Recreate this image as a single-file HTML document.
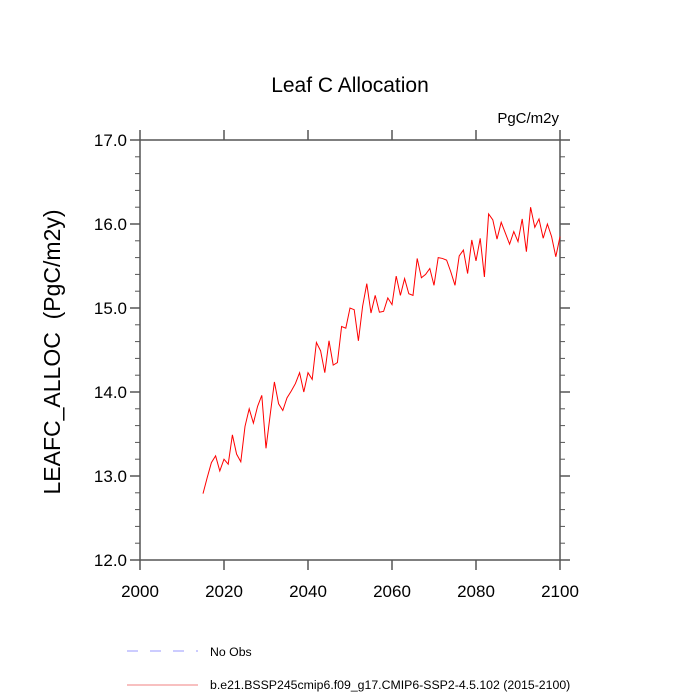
<!DOCTYPE html>
<html><head><meta charset="utf-8"><style>
body{margin:0;background:#fff;}
svg{display:block;font-family:"Liberation Sans",sans-serif;}
</style></head><body>
<svg id="chart" width="700" height="700">
<text x="350" y="92" font-size="21" text-anchor="middle">Leaf C Allocation</text>
<text x="559" y="123" font-size="15" text-anchor="end">PgC/m2y</text>
<text transform="translate(60,352) rotate(-90)" font-size="23" text-anchor="middle" xml:space="preserve" style="white-space:pre">LEAFC_ALLOC  (PgC/m2y)</text>
<g id="axes"></g>
<g id="series"></g>
<line x1="127" y1="651" x2="198" y2="651" stroke="#9999ff" stroke-dasharray="11,12"/>
<text x="210" y="656" font-size="12.3">No Obs</text>
<line x1="127" y1="685" x2="198" y2="685" stroke="#f08080"/>
<text x="210" y="689" font-size="12.3">b.e21.BSSP245cmip6.f09_g17.CMIP6-SSP2-4.5.102 (2015-2100)</text>
</svg>
<script>
const years=[2015,2016,2017,2018,2019,2020,2021,2022,2023,2024,2025,2026,2027,2028,2029,2030,2031,2032,2033,2034,2035,2036,2037,2038,2039,2040,2041,2042,2043,2044,2045,2046,2047,2048,2049,2050,2051,2052,2053,2054,2055,2056,2057,2058,2059,2060,2061,2062,2063,2064,2065,2066,2067,2068,2069,2070,2071,2072,2073,2074,2075,2076,2077,2078,2079,2080,2081,2082,2083,2084,2085,2086,2087,2088,2089,2090,2091,2092,2093,2094,2095,2096,2097,2098,2099,2100];
const values=[12.79,12.98,13.16,13.24,13.06,13.20,13.14,13.49,13.26,13.17,13.59,13.80,13.63,13.83,13.96,13.33,13.73,14.12,13.86,13.78,13.93,14.01,14.10,14.23,14.00,14.23,14.15,14.59,14.49,14.23,14.61,14.32,14.35,14.78,14.76,15.00,14.98,14.61,15.02,15.29,14.94,15.15,14.95,14.96,15.12,15.04,15.38,15.15,15.35,15.17,15.15,15.59,15.36,15.40,15.47,15.27,15.60,15.59,15.57,15.43,15.27,15.62,15.69,15.41,15.81,15.56,15.83,15.37,16.12,16.05,15.82,16.02,15.89,15.76,15.91,15.79,16.06,15.67,16.20,15.96,16.06,15.83,16.00,15.85,15.61,15.85];
const xTicks=[2000,2020,2040,2060,2080,2100];
const yTicks=[12,13,14,15,16,17];
const yTickLabels=["12.0","13.0","14.0","15.0","16.0","17.0"];
const NS="http://www.w3.org/2000/svg";
const L=140,R=560,T=140,B=560;
const xs=v=>L+(v-2000)/100*(R-L);
const ys=v=>B-(v-12)/5*(B-T);
const ax=document.getElementById('axes');
function mk(tag,a,p){const e=document.createElementNS(NS,tag);for(const k in a)e.setAttribute(k,a[k]);p.appendChild(e);return e;}
const fr=mk('rect',{x:L,y:T,width:R-L,height:B-T,fill:'none',stroke:'#555','stroke-width':1.5},ax);


xTicks.forEach(t=>{
  const x=xs(t);
  const l1=mk('line',{x1:x,y1:B,x2:x,y2:B+10,stroke:'#555','stroke-width':1.5},ax);
  
  
  mk('line',{x1:x,y1:T,x2:x,y2:T-10,stroke:'#555','stroke-width':1.5},ax);
  const tx=mk('text',{x:x,y:B+37,'font-size':17,'text-anchor':'middle'},ax);
  tx.textContent=t;
  
  
});
yTicks.forEach((t,i)=>{
  const y=ys(t);
  const l1=mk('line',{x1:L,y1:y,x2:L-10,y2:y,stroke:'#555','stroke-width':1.5},ax);
  
  
  mk('line',{x1:R,y1:y,x2:R+10,y2:y,stroke:'#555','stroke-width':1.5},ax);
  const tx=mk('text',{x:L-13,y:y+6,'font-size':17,'text-anchor':'end'},ax);
  tx.textContent=yTickLabels[i];
  
  
  if(i<yTicks.length-1){for(let k=1;k<5;k++){const yy=ys(t+k*0.2);
    mk('line',{x1:L,y1:yy,x2:L-5,y2:yy,stroke:'#555','stroke-width':1},ax);
    mk('line',{x1:R,y1:yy,x2:R+5,y2:yy,stroke:'#555','stroke-width':1},ax);}}
});
const pl=mk('polyline',{points:years.map((y,i)=>xs(y)+','+ys(values[i])).join(' '),fill:'none',stroke:'#ff0000','stroke-width':1},document.getElementById('series'));


</script>
</body></html>
